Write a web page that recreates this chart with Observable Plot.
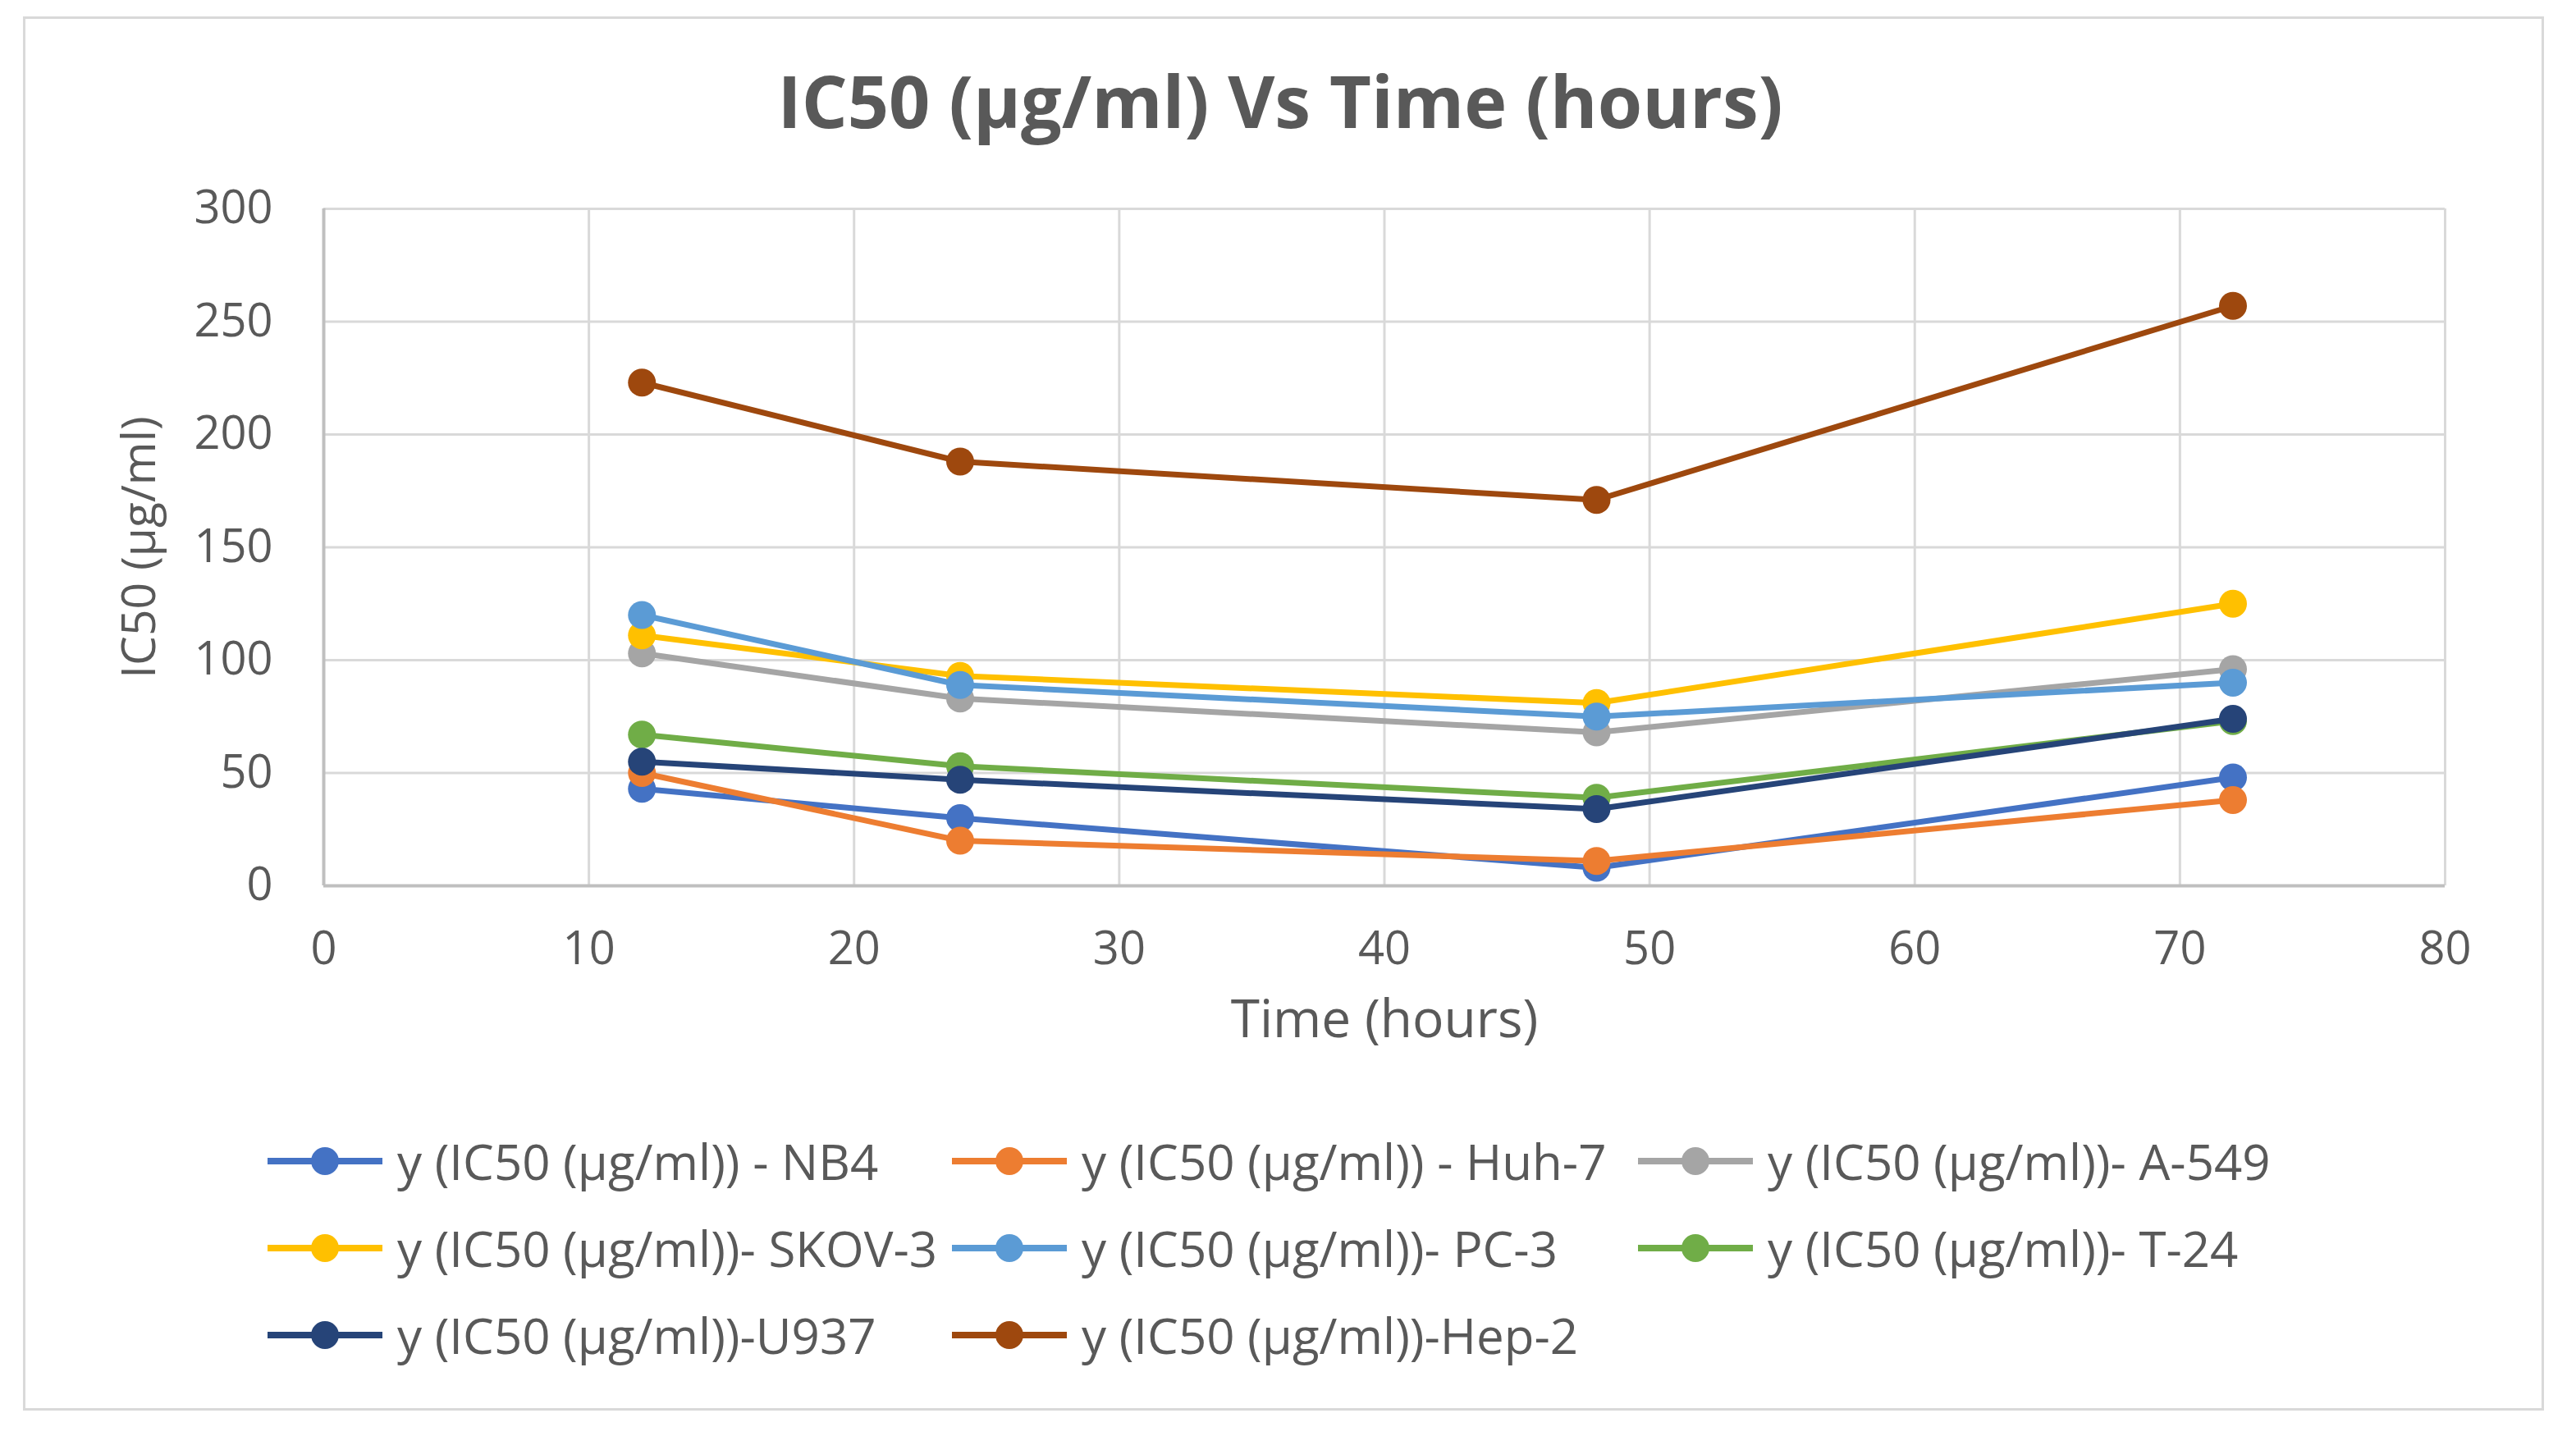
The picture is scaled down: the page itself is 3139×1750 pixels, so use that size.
<!DOCTYPE html>
<html>
<head>
<meta charset="utf-8">
<script src="https://cdn.jsdelivr.net/npm/d3@7"></script>
<script src="https://cdn.jsdelivr.net/npm/@observablehq/plot@0.6"></script>
<style>
  html, body { margin: 0; padding: 0; background: #fff; }
  #page { position: relative; width: 3139px; height: 1750px; font-family: "Open Sans", sans-serif; color: #595959; overflow: hidden; }
  #frame { position: absolute; left: 28px; top: 20px; width: 3066px; height: 1693px; border: 3px solid #D9D9D9; }
  #title { position: absolute; left: 0; width: 3120px; top: 62px; text-align: center; font-size: 88px; font-weight: 700; line-height: 120px; color: #595959; }
  #chart { position: absolute; left: 0; top: 180px; }
  .leg { position: absolute; display: flex; align-items: center; height: 80px; font-size: 60px; white-space: nowrap; color: #595959; }
  .leg svg { margin-right: 18px; }
</style>
</head>
<body>
<div id="page">
  <div id="frame"></div>
  <div id="title">IC50 (µg/ml) Vs Time (hours)</div>
  <div id="chart"></div>
  <div id="legend"></div>
</div>
<script>
// ---- data ----
const times = [12, 24, 48, 72];
const seriesNames = [
  "y (IC50 (µg/ml)) - NB4",
  "y (IC50 (µg/ml)) - Huh-7",
  "y (IC50 (µg/ml))- A-549",
  "y (IC50 (µg/ml))- SKOV-3",
  "y (IC50 (µg/ml))- PC-3",
  "y (IC50 (µg/ml))- T-24",
  "y (IC50 (µg/ml))-U937",
  "y (IC50 (µg/ml))-Hep-2"
];
const nb4   = [43, 30, 8, 48];
const huh7  = [50, 20, 11, 38];
const a549  = [103, 83, 68, 96];
const skov3 = [111, 93, 81, 125];
const pc3   = [120, 89, 75, 90];
const t24   = [67, 53, 39, 73];
const u937  = [55, 47, 34, 74];
const hep2  = [223, 188, 171, 257];
const xTicks = [0, 10, 20, 30, 40, 50, 60, 70, 80];
const yTicks = [0, 50, 100, 150, 200, 250, 300];
const xLabel = "Time (hours)";
const yLabel = "IC50 (µg/ml)";

// ---- styles ----
const colors = ["#4472C4", "#ED7D31", "#A5A5A5", "#FFC000", "#5B9BD5", "#70AD47", "#264478", "#9E480E"];

const seriesValues = [nb4, huh7, a549, skov3, pc3, t24, u937, hep2];
const rows = [];
seriesNames.forEach((name, i) => {
  times.forEach((t, j) => rows.push({series: name, time: t, value: seriesValues[i][j]}));
});

const marks = [
  Plot.gridX(xTicks, {stroke: "#D9D9D9", strokeOpacity: 1, strokeWidth: 3}),
  Plot.gridY(yTicks, {stroke: "#D9D9D9", strokeOpacity: 1, strokeWidth: 3}),
  Plot.ruleY([0], {stroke: "#BFBFBF", strokeWidth: 4}),
  Plot.ruleX([0], {stroke: "#BFBFBF", strokeWidth: 4}),
  Plot.axisX(xTicks, {tickSize: 0, tickPadding: 56, fontSize: 56, label: null}),
  Plot.axisY(yTicks, {tickSize: 0, tickPadding: 62, fontSize: 56, label: null}),
  Plot.text([xLabel], {frameAnchor: "bottom", lineAnchor: "middle", dy: 164, fontSize: 64}),
  Plot.text([yLabel], {frameAnchor: "left", textAnchor: "middle", lineAnchor: "middle", dx: -224, rotate: -90, fontSize: 57})
];
seriesNames.forEach(name => {
  const d = rows.filter(r => r.series === name);
  marks.push(Plot.line(d, {x: "time", y: "value", stroke: "series", strokeWidth: 7}));
  marks.push(Plot.dot(d, {x: "time", y: "value", fill: "series", r: 17, stroke: "none"}));
});

const chart = Plot.plot({
  width: 3139,
  height: 1120,
  marginLeft: 394,
  marginRight: 160,
  marginTop: 74,
  marginBottom: 221,
  style: {fontFamily: "Open Sans, sans-serif", color: "#595959", background: "transparent", overflow: "visible"},
  x: {domain: [0, 80], axis: null},
  y: {domain: [0, 300], axis: null},
  color: {domain: seriesNames, range: colors},
  marks
});
document.getElementById("chart").appendChild(chart);

// ---- legend ----
const legCols = [326, 1160, 1996];
const legRows = [1415, 1521, 1627];
const legend = document.getElementById("legend");
seriesNames.forEach((name, i) => {
  const item = document.createElement("div");
  item.className = "leg";
  item.style.left = legCols[i % 3] + "px";
  item.style.top = (legRows[Math.floor(i / 3)] - 40) + "px";
  item.innerHTML = `<svg width="140" height="40"><line x1="0" x2="140" y1="20" y2="20" stroke="${colors[i]}" stroke-width="8"/><circle cx="70" cy="20" r="17" fill="${colors[i]}"/></svg><span>${name}</span>`;
  legend.appendChild(item);
});
</script>
</body>
</html>
